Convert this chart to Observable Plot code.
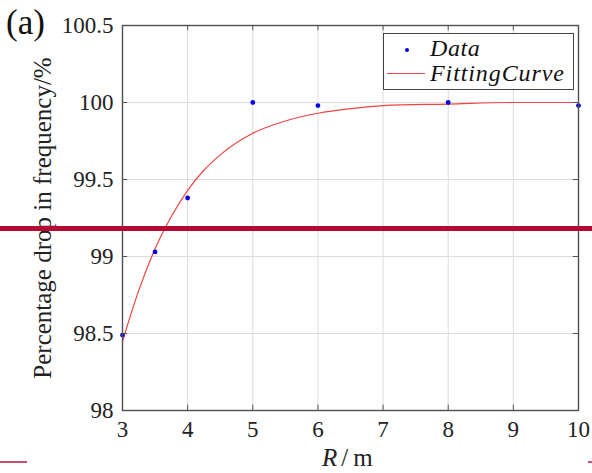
<!DOCTYPE html>
<html>
<head>
<meta charset="utf-8">
<script src="https://cdn.jsdelivr.net/npm/d3@7"></script>
<script src="https://cdn.jsdelivr.net/npm/@observablehq/plot@0.6"></script>
<style>
  html, body { margin: 0; padding: 0; background: #fff; }
  #wrap { position: relative; width: 592px; height: 473px; font-family: "Liberation Serif", "Times New Roman", serif; overflow: hidden; }
  #wrap svg { position: absolute; left: 0; top: 0; }
  #wrap svg, #wrap svg text { font-family: "Liberation Serif", "Times New Roman", serif !important; }
  .abs { position: absolute; font-family: "Liberation Serif", "Times New Roman", serif; white-space: nowrap; line-height: 1.15; }
</style>
</head>
<body>
<div id="wrap"></div>
<script>
// Data points (R in m, percentage)
const dataR = [3, 3.5, 4, 5, 6, 8, 10];
const dataP = [98.49, 99.03, 99.38, 100.0, 99.98, 100.0, 99.98];
// Fitting curve
const fitR = [3, 3.25, 3.5, 3.75, 4, 4.25, 4.5, 5, 5.5, 6, 6.5, 7, 8, 9, 10];
const fitP = [98.45, 98.78, 99.05, 99.26, 99.43, 99.56, 99.66, 99.80, 99.88, 99.93, 99.96, 99.98, 99.99, 100.0, 100.0];
// Ticks
const xTicks = [3, 4, 5, 6, 7, 8, 9, 10];
const yTicks = [98, 98.5, 99, 99.5, 100, 100.5];

const points = dataR.map((r, i) => ({r, p: dataP[i]}));
const fit = fitR.map((r, i) => ({r, p: fitP[i]}));

const plot = Plot.plot({
  width: 592,
  height: 473,
  marginLeft: 122,
  marginRight: 14,
  marginTop: 25,
  marginBottom: 63,
  style: {fontFamily: "Liberation Serif", background: "transparent"},
  x: {domain: [3, 10]},
  y: {domain: [98, 100.5]},
  marks: [
    Plot.gridX(xTicks, {stroke: "#dcdcdc", strokeOpacity: 1}),
    Plot.gridY(yTicks, {stroke: "#dcdcdc", strokeOpacity: 1}),
    Plot.line(fit, {x: "r", y: "p", stroke: "#f04444", strokeWidth: 1.2, curve: "monotone-x"}),
    Plot.dot(points, {x: "r", y: "p", r: 2.4, fill: "#0000ee", stroke: "none"}),
    // inward ticks
    Plot.ruleX(xTicks, {y1: 98, y2: 98.035, stroke: "#555"}),
    Plot.ruleX(xTicks, {y1: 100.465, y2: 100.5, stroke: "#555"}),
    Plot.ruleY(yTicks, {x1: 3, x2: 3.08, stroke: "#555"}),
    Plot.ruleY(yTicks, {x1: 9.92, x2: 10, stroke: "#555"}),
    Plot.frame({stroke: "#505050", strokeWidth: 1.4}),
    Plot.axisX(xTicks, {tickSize: 0, tickPadding: 10, fontSize: 23, fill: "#222", label: null}),
    Plot.axisY(yTicks, {tickSize: 0, tickPadding: 9, fontSize: 23, fill: "#222", label: null, tickFormat: d => String(d)}),
    Plot.text(["Percentage drop in frequency/%"], {frameAnchor: "left", textAnchor: "middle", rotate: -90, dx: -80, fontSize: 25, fill: "#222"})
  ]
});

const wrap = document.getElementById("wrap");
wrap.appendChild(plot);
plot.querySelectorAll("text").forEach(t => {
  t.style.fontFamily = '"Liberation Serif", "Times New Roman", serif';
});

function add(html) { wrap.insertAdjacentHTML("beforeend", html); }
// panel label
add(`<div class="abs" style="left:6px;top:3px;font-size:35px;color:#111;">(a)</div>`);
// x label
add(`<div class="abs" style="left:322px;top:444px;font-size:25px;color:#222;"><i>R</i><span style="margin:0 5px 0 4px">/</span>m</div>`);
// legend
add(`<div class="abs" style="left:383px;top:33px;width:189px;height:55px;border:1px solid #444;background:#fff;"></div>`);
add(`<div class="abs" style="left:405px;top:48px;width:4px;height:4px;border-radius:2px;background:#0000ee;"></div>`);
add(`<div class="abs" style="left:387px;top:73px;width:38px;height:1.2px;background:#f04444;"></div>`);
add(`<div class="abs" style="left:430px;top:35px;font-size:24px;font-style:italic;color:#111;letter-spacing:0.6px;">Data</div>`);
add(`<div class="abs" style="left:430px;top:60px;font-size:24px;font-style:italic;color:#111;letter-spacing:0.9px;">FittingCurve</div>`);
// overlay red lines from the picture
add(`<div class="abs" style="left:0;top:226px;width:592px;height:5px;background:#b30b32;"></div>`);
add(`<div class="abs" style="left:0;top:461px;width:27px;height:2px;background:#c8506e;"></div>`);
add(`<div class="abs" style="left:588px;top:461px;width:4px;height:2px;background:#c8506e;"></div>`);
</script>
</body>
</html>
